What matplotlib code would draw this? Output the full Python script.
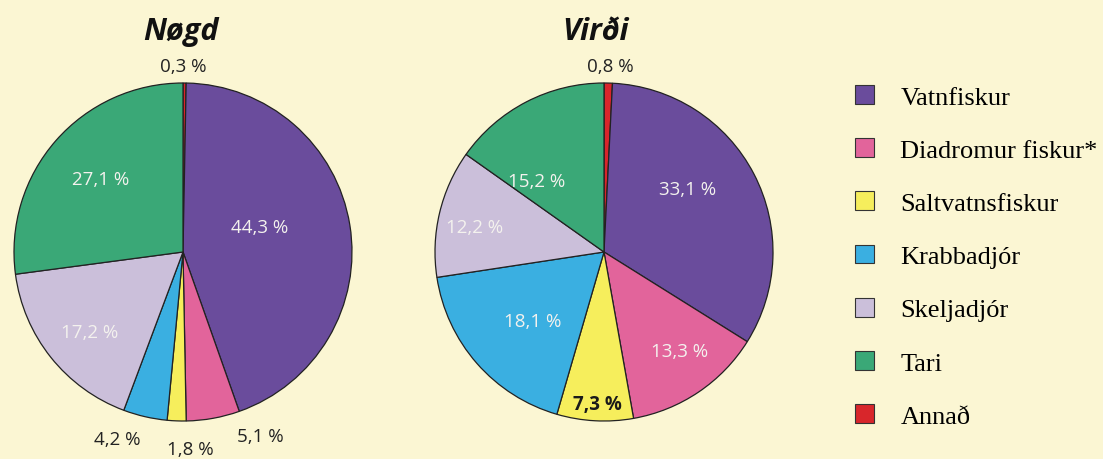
import matplotlib
matplotlib.use('agg')
import matplotlib.pyplot as plt
from matplotlib.patches import Patch

# data
categories = ['Annað', 'Vatnfiskur', 'Diadromur fiskur*', 'Saltvatnsfiskur',
              'Krabbadjór', 'Skeljadjór', 'Tari']
nogd = [0.3, 44.3, 5.1, 1.8, 4.2, 17.2, 27.1]
virdi = [0.8, 33.1, 13.3, 7.3, 18.1, 12.2, 15.2]
legend_order = ['Vatnfiskur', 'Diadromur fiskur*', 'Saltvatnsfiskur',
                'Krabbadjór', 'Skeljadjór', 'Tari', 'Annað']

colors = {
    'Annað': '#d8262b',
    'Vatnfiskur': '#6a4c9c',
    'Diadromur fiskur*': '#e2649b',
    'Saltvatnsfiskur': '#f6ee5c',
    'Krabbadjór': '#3aafe1',
    'Skeljadjór': '#cbbfda',
    'Tari': '#3aa877',
}
bg = '#fbf6d3'

# label placement (data units of each pie axis) and style
nogd_lbl = [((0.0, 1.10), 'out'), ((0.456, 0.148), 'in'), ((0.456, -1.09), 'out'),
            ((0.041, -1.166), 'out'), ((-0.39, -1.107), 'out'),
            ((-0.55, -0.473), 'in'), ((-0.49, 0.432), 'in')]
virdi_lbl = [((0.036, 1.10), 'out'), ((0.497, 0.373), 'in'), ((0.45, -0.586), 'in'),
             ((-0.041, -0.90), 'dark'), ((-0.42, -0.408), 'in'),
             ((-0.763, 0.148), 'in'), ((-0.396, 0.42), 'in')]

W, H = 1103, 460
fig = plt.figure(figsize=(W / 100, H / 100), dpi=100)
fig.patch.set_facecolor(bg)

lbl_font = 'Open Sans'
lbl_size = 13.5


def fmt(v):
    return ('%.1f' % v).replace('.', ',') + ' %'


def draw_pie(cx, cy, r, vals, lbls, title, tx):
    ax = fig.add_axes([(cx - r) / W, (H - cy - r) / H, 2 * r / W, 2 * r / H])
    ax.pie(vals, colors=[colors[c] for c in categories], startangle=90,
           counterclock=False, radius=1,
           wedgeprops=dict(edgecolor='#222222', linewidth=0.9))
    ax.set_xlim(-1, 1)
    ax.set_ylim(-1, 1)
    ax.set_aspect('equal')
    ax.axis('off')
    for v, ((x, y), kind) in zip(vals, lbls):
        if kind == 'in':
            ax.text(x, y, fmt(v), ha='center', va='center', fontsize=lbl_size,
                    color='#f4f2ee', family=lbl_font, clip_on=False)
        elif kind == 'dark':
            ax.text(x, y, fmt(v), ha='center', va='center', fontsize=lbl_size,
                    color='#1a1a1a', family=lbl_font, fontweight='bold', clip_on=False)
        else:
            ax.text(x, y, fmt(v), ha='center', va='center', fontsize=lbl_size,
                    color='#222222', family=lbl_font, clip_on=False)
    fig.text(tx / W, 1 - 32 / H, title, ha='center', va='center', fontsize=22,
             fontweight='bold', fontstyle='italic', family='Open Sans', color='#111111')


draw_pie(183, 253, 169, nogd, nogd_lbl, 'Nøgd', 181)
draw_pie(604, 253, 169, virdi, virdi_lbl, 'Virði', 596)

handles = [Patch(facecolor=colors[c], edgecolor='#333333', linewidth=0.8)
           for c in legend_order]
fig.legend(handles, legend_order, loc='upper left',
           bbox_to_anchor=(855 / W, 1 - 86 / H), frameon=False,
           prop=dict(family='Liberation Serif', size=19),
           handlelength=0.72, handleheight=0.72, handletextpad=1.0,
           labelspacing=1.12, borderpad=0, borderaxespad=0)

fig.savefig('out.png', dpi=100, facecolor=bg)
